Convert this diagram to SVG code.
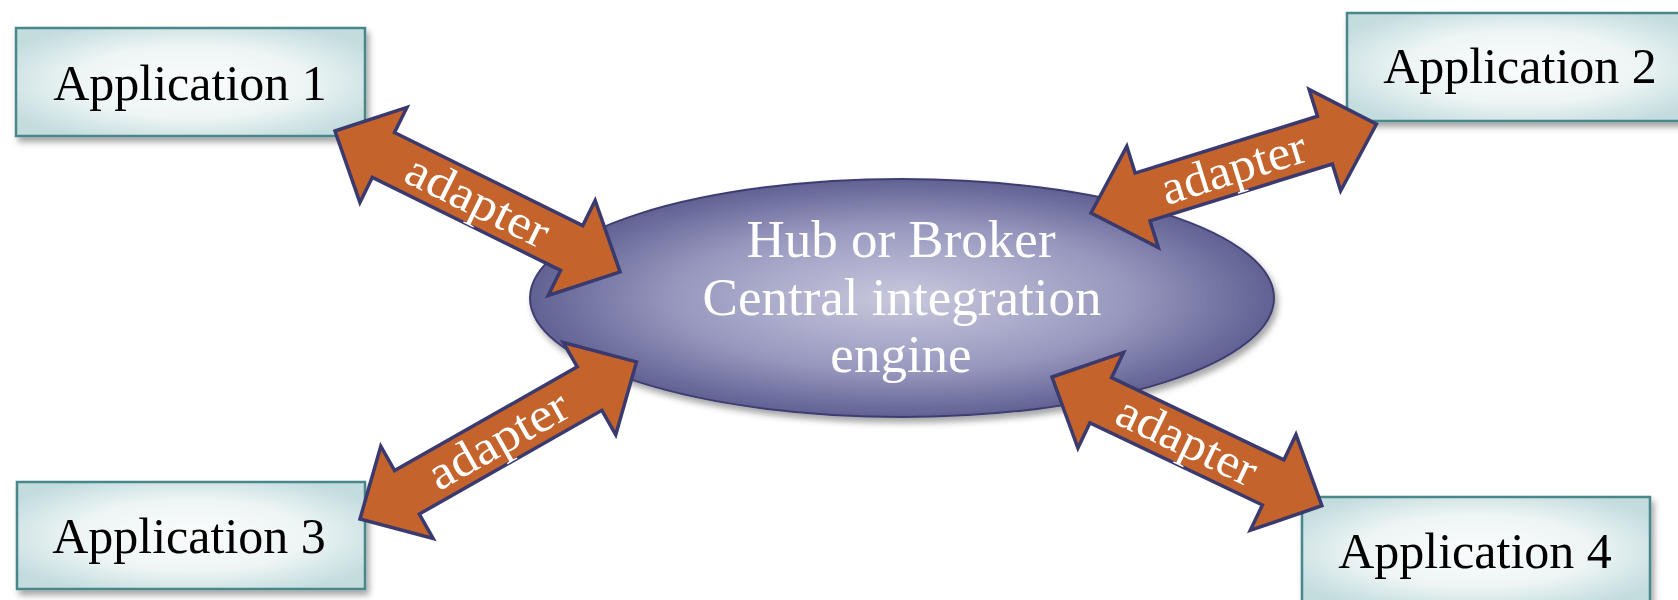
<svg xmlns="http://www.w3.org/2000/svg" width="1678" height="600" viewBox="0 0 1678 600">
  <style>
    .box { fill: url(#boxGrad); stroke: #4a878b; stroke-width: 2.5; filter: url(#shadow); }
    .appText { font-family: "Liberation Serif", "DejaVu Serif", serif; font-size: 50px; fill: #000; text-anchor: middle; }
    .hubText { font-family: "Liberation Serif", "DejaVu Serif", serif; font-size: 53px; fill: #fff; text-anchor: middle; }
    .arrow { fill: #c4642c; stroke: #3b3a6e; stroke-width: 3.5; stroke-linejoin: miter; }
    .arrowText { font-family: "Liberation Serif", "DejaVu Serif", serif; font-size: 48px; fill: #fff; text-anchor: middle; }
  </style>
  <defs>
    <radialGradient id="boxGrad" cx="0.5" cy="0.5" r="0.6">
      <stop offset="0" stop-color="#fafcfc"/>
      <stop offset="0.55" stop-color="#eef5f5"/>
      <stop offset="1" stop-color="#c3dcde"/>
    </radialGradient>
    <radialGradient id="hubGrad" cx="0.5" cy="0.5" r="0.55">
      <stop offset="0" stop-color="#c8c8dd"/>
      <stop offset="0.55" stop-color="#9898bf"/>
      <stop offset="1" stop-color="#535388"/>
    </radialGradient>
    <filter id="shadow" x="-10%" y="-10%" width="125%" height="135%">
      <feDropShadow dx="3" dy="5" stdDeviation="3" flood-color="#000" flood-opacity="0.35"/>
    </filter>
  </defs>

  <g id="hub">
    <ellipse cx="902" cy="298" rx="372" ry="119" fill="url(#hubGrad)" stroke="#3e3e72" stroke-width="2" filter="url(#shadow)"/>
    <text class="hubText" x="901" y="257">Hub or Broker</text>
    <text class="hubText" x="902" y="315">Central integration</text>
    <text class="hubText" x="901" y="372">engine</text>
  </g>

  <g id="app1">
    <rect class="box" x="16" y="28" width="349" height="108"/>
    <text class="appText" x="190" y="100">Application 1</text>
  </g>
  <g id="app2">
    <rect class="box" x="1347" y="13" width="349" height="108"/>
    <text class="appText" x="1520" y="83">Application 2</text>
  </g>
  <g id="app3">
    <rect class="box" x="17" y="482" width="348" height="107"/>
    <text class="appText" x="189" y="553">Application 3</text>
  </g>
  <g id="app4">
    <rect class="box" x="1302" y="497" width="348" height="108"/>
    <text class="appText" x="1475" y="568">Application 4</text>
  </g>

  <g id="connectors">
    <g transform="translate(335,131) rotate(26.3)">
      <path class="arrow" d="M0,0 L54,-53 L54,-25 L264,-25 L264,-53 L318,0 L264,53 L264,25 L54,25 L54,53 Z"/>
      <text class="arrowText" x="159" y="15" textLength="154" lengthAdjust="spacingAndGlyphs">adapter</text>
    </g>
    <g transform="translate(1091,213) rotate(-17.3)">
      <path class="arrow" d="M0,0 L54,-53 L54,-25 L245,-25 L245,-53 L299,0 L245,53 L245,25 L54,25 L54,53 Z"/>
      <text class="arrowText" x="149.5" y="15" textLength="150" lengthAdjust="spacingAndGlyphs">adapter</text>
    </g>
    <g transform="translate(360,519) rotate(-29.6)">
      <path class="arrow" d="M0,0 L54,-53 L54,-25 L264,-25 L264,-53 L318,0 L264,53 L264,25 L54,25 L54,53 Z"/>
      <text class="arrowText" x="159" y="15" textLength="154" lengthAdjust="spacingAndGlyphs">adapter</text>
    </g>
    <g transform="translate(1052,377) rotate(25.5)">
      <path class="arrow" d="M0,0 L54,-53 L54,-25 L245,-25 L245,-53 L299,0 L245,53 L245,25 L54,25 L54,53 Z"/>
      <text class="arrowText" x="149.5" y="15" textLength="150" lengthAdjust="spacingAndGlyphs">adapter</text>
    </g>
  </g>
</svg>
